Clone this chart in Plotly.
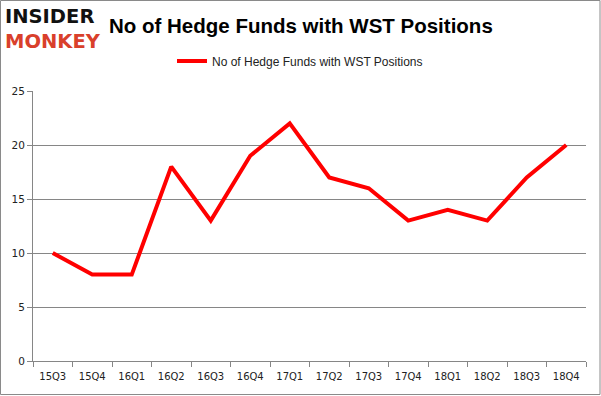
import plotly.graph_objects as go

quarters = ["15Q3", "15Q4", "16Q1", "16Q2", "16Q3", "16Q4", "17Q1", "17Q2",
            "17Q3", "17Q4", "18Q1", "18Q2", "18Q3", "18Q4"]
funds = [10, 8, 8, 18, 13, 19, 22, 17, 16, 13, 14, 13, 17, 20]
series_name = "No of Hedge Funds with WST Positions"
title_text = "No of Hedge Funds with WST Positions"

W, H = 601, 396
ML, MR, MT, MB = 33, 15, 91, 35
pw, ph = W - ML - MR, H - MT - MB

def px(x):
    return (x - ML) / pw

def py(y):
    return (H - MB - y) / ph

fig = go.Figure()
fig.add_trace(go.Scatter(
    x=quarters, y=funds, mode="lines", name=series_name,
    line=dict(color="#ff0000", width=4),
))

grid = "#868686"
fig.update_layout(
    width=W, height=H,
    margin=dict(l=ML, r=MR, t=MT, b=MB, autoexpand=False),
    paper_bgcolor="white", plot_bgcolor="white",
    showlegend=True,
    legend=dict(orientation="h", x=px(300), xanchor="center", y=py(61), yanchor="middle",
                font=dict(family="Liberation Sans, Arial", size=12, color="#222"),
                bgcolor="rgba(0,0,0,0)"),
    xaxis=dict(type="category", showgrid=False, showline=True, linecolor=grid, linewidth=1,
               ticks="outside", tickson="boundaries", ticklen=5, tickcolor=grid,
               ticklabelstandoff=6,
               tickfont=dict(family="DejaVu Sans, Verdana", size=10, color="#222"),
               range=[-0.5, 13.5]),
    yaxis=dict(range=[0, 25], dtick=5, showgrid=True, gridcolor=grid, gridwidth=1,
               showline=True, linecolor=grid, linewidth=1, ticks="outside", ticklen=5,
               tickcolor=grid, zeroline=False,
               tickfont=dict(family="DejaVu Sans, Verdana", size=10.5, color="#222")),
    annotations=[
        dict(text="<b>" + title_text + "</b>", xref="paper", yref="paper",
             x=px(301), y=py(25), xanchor="center", yanchor="middle", showarrow=False,
             font=dict(family="Liberation Sans, Arial", size=20.5, color="black")),
        dict(text="<b>INSIDER</b><br><b><span style='color:#d9402b'>MONKEY</span></b>",
             xref="paper", yref="paper", align="left",
             x=px(3), y=py(29), xanchor="left", yanchor="middle", showarrow=False,
             font=dict(family="DejaVu Sans", size=19.5, color="#111")),
    ],
    shapes=[dict(type="rect", xref="paper", yref="paper",
                 x0=px(0.5), x1=px(600), y0=py(394.5), y1=py(0.5),
                 line=dict(color="#8a8a8a", width=1), layer="below")],
)

fig.write_html("out.html", config={"displayModeBar": False},
               post_script="document.body.style.margin='0';")
